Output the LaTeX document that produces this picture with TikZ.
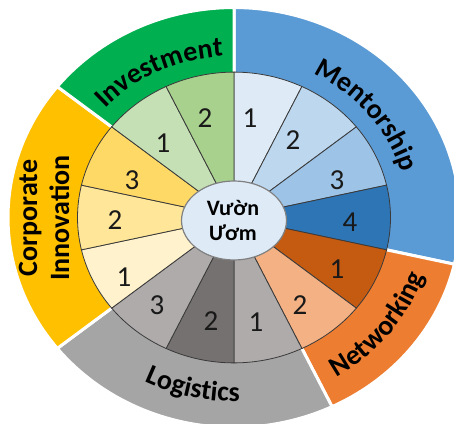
\documentclass[tikz,border=0pt]{standalone}
\usepackage{fontspec}
\setmainfont{Carlito}
\usetikzlibrary{decorations.text}
\definecolor{mentO}{HTML}{5B9BD5}
\definecolor{netO}{HTML}{ED7D31}
\definecolor{logO}{HTML}{A5A5A5}
\definecolor{corpO}{HTML}{FFC000}
\definecolor{invO}{HTML}{00B050}
\definecolor{mA}{HTML}{DEEBF7}
\definecolor{mB}{HTML}{BDD7EE}
\definecolor{mC}{HTML}{9DC3E6}
\definecolor{mD}{HTML}{2E75B6}
\definecolor{nA}{HTML}{C55A11}
\definecolor{nB}{HTML}{F4B183}
\definecolor{lA}{HTML}{AFABAB}
\definecolor{lB}{HTML}{767171}
\definecolor{cA}{HTML}{FFF2CC}
\definecolor{cB}{HTML}{FFE699}
\definecolor{cC}{HTML}{FFD966}
\definecolor{iA}{HTML}{C5E0B4}
\definecolor{iB}{HTML}{A9D18E}
\definecolor{hubfill}{HTML}{DEEBF7}
\definecolor{segline}{HTML}{3A3A3A}
\newcommand\lblfont{\fontsize{28}{32}\selectfont\bfseries}
\tikzset{
  outerseg/.style={fill=#1, draw=white, line width=3pt, line join=round},
  innerseg/.style={fill=#1, draw=segline, line width=0.8pt},
  numlbl/.style={font=\fontsize{29}{32}\selectfont, text=black!90, inner sep=0pt},
  hubstyle/.style={fill=hubfill, draw=black!50, line width=1.2pt},
  curvelbl/.style={decorate, decoration={text along path, text align=center, text={|\lblfont|#1}}}
}
\begin{document}
\begin{tikzpicture}[x=1pt,y=1pt]
\useasboundingbox (0,0) rectangle (454,423);
\clip (0,0) rectangle (454,423);
\begin{scope}[shift={(234pt,205.5pt)}, yscale=0.929]
  % outer ring
  \foreach \a/\b/\c in {90/-12.857/mentO, -12.857/-64.286/netO, -64.286/-141.429/logO, -141.429/-218.571/corpO, -218.571/-270/invO}
    \draw[outerseg=\c] (0pt,0pt) -- (\a:226pt) arc[start angle=\a, end angle=\b, radius=226pt] -- cycle;
  % inner ring
  \foreach \a/\b/\c in {90/64.286/mA, 64.286/38.571/mB, 38.571/12.857/mC, 12.857/-12.857/mD,
      -12.857/-38.571/nA, -38.571/-64.286/nB,
      -64.286/-90/lA, -90/-115.714/lB, -115.714/-141.429/lA,
      -141.429/-167.143/cA, -167.143/-192.857/cB, -192.857/-218.571/cC,
      -218.571/-244.286/iA, -244.286/-270/iB}
    \draw[innerseg=\c] (0pt,0pt) -- (\a:156.5pt) arc[start angle=\a, end angle=\b, radius=156.5pt] -- cycle;
  % curved labels
  \path[curvelbl=Investment] (141.429:174pt) arc[start angle=141.429, end angle=90, radius=174pt];
  \path[curvelbl=Mentorship] (90:174pt) arc[start angle=90, end angle=-12.857, radius=174pt];
  \path[curvelbl=Networking] (-64.286:200pt) arc[start angle=-64.286, end angle=-12.857, radius=200pt];
  \path[curvelbl=Logistics] (-141.429:198pt) arc[start angle=-141.429, end angle=-64.286, radius=198pt];
\end{scope}
% hub
\draw[hubstyle] (234,202.5) ellipse[x radius=52.5pt, y radius=39.5pt];
\node[align=center, font=\fontsize{22}{25}\selectfont\bfseries, inner sep=0pt] (hub) at (233,203) {Vườn\\Ươm};
% corporate innovation
\node[rotate=90, align=center, font=\fontsize{28}{32}\selectfont\bfseries, inner sep=0pt] (corp) at (44,205) {Corporate\\Innovation};
% numbers
\node[numlbl] (i2) at (205,305) {2};
\node[numlbl] (i1) at (163,280) {1};
\node[numlbl] (m1) at (250,305) {1};
\node[numlbl] (m2) at (293,283) {2};
\node[numlbl] (m3) at (337,243) {3};
\node[numlbl] (m4) at (350,201) {4};
\node[numlbl] (n1) at (337,154) {1};
\node[numlbl] (n2) at (300,118) {2};
\node[numlbl] (l1) at (256,101) {1};
\node[numlbl] (l2) at (211,102) {2};
\node[numlbl] (l3) at (157,118) {3};
\node[numlbl] (c1) at (124,146) {1};
\node[numlbl] (c2) at (115,203) {2};
\node[numlbl] (c3) at (132,243) {3};
\end{tikzpicture}
\end{document}
